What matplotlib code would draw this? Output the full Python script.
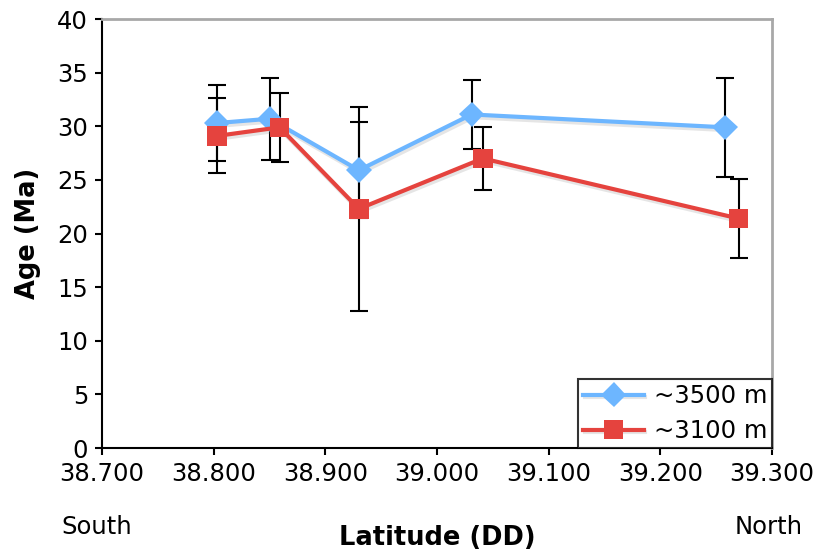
import matplotlib
matplotlib.use("Agg")
import matplotlib.pyplot as plt
import matplotlib.patheffects as pe

# Latitude (DD) of each sample site
lat_3500 = [38.803, 38.850, 38.930, 39.031, 39.258]
lat_3100 = [38.803, 38.859, 38.930, 39.041, 39.270]

# Ages (Ma) and their error bars
age_3500 = [30.3, 30.7, 25.9, 31.1, 29.9]
err_3500 = [3.5, 3.8, 4.5, 3.2, 4.6]
age_3100 = [29.1, 29.9, 22.3, 27.0, 21.4]
err_3100 = [3.5, 3.2, 9.5, 2.9, 3.7]

x_ticks = [38.7, 38.8, 38.9, 39.0, 39.1, 39.2, 39.3]
y_ticks = [0, 5, 10, 15, 20, 25, 30, 35, 40]

BLUE = "#6DB6FF"
RED = "#E5433E"
FS = 17.5
FS_BOLD = 18.5


def main():
    fig = plt.figure(figsize=(8.22, 5.54), dpi=100)
    ax = fig.add_axes([0.1241, 0.1913, 0.8151, 0.7744])

    shadow = [pe.SimpleLineShadow(offset=(1, -2), shadow_color="0.5", alpha=0.2), pe.Normal()]

    # error bars sit behind the lines and markers
    ax.errorbar(lat_3500, age_3500, yerr=err_3500, fmt="none", ecolor="black",
                elinewidth=1.5, capsize=6.5, capthick=1.5, zorder=2)
    ax.errorbar(lat_3100, age_3100, yerr=err_3100, fmt="none", ecolor="black",
                elinewidth=1.5, capsize=6.5, capthick=1.5, zorder=2)

    ax.plot(lat_3500, age_3500, color=BLUE, linewidth=3, marker="D", markersize=13,
            markeredgewidth=0, label="~3500 m", zorder=3, path_effects=shadow)
    ax.plot(lat_3100, age_3100, color=RED, linewidth=3, marker="s", markersize=14,
            markeredgewidth=0, label="~3100 m", zorder=4, path_effects=shadow)

    ax.set_xlim(38.7, 39.3)
    ax.set_ylim(0, 40)
    ax.set_xticks(x_ticks)
    ax.set_xticklabels([f"{v:.3f}" for v in x_ticks])
    ax.set_yticks(y_ticks)
    ax.tick_params(direction="out", length=5, width=1.5, labelsize=FS, pad=5)

    for side in ["left", "bottom"]:
        ax.spines[side].set_color("black")
        ax.spines[side].set_linewidth(1.5)
    for side in ["top", "right"]:
        ax.spines[side].set_color("#a8a8a8")
        ax.spines[side].set_linewidth(2)

    ax.set_ylabel("Age (Ma)", fontsize=FS_BOLD, fontweight="bold", labelpad=12)
    fig.text(0.5316, 0.029, "Latitude (DD)", fontsize=FS_BOLD, fontweight="bold",
             ha="center", va="center")
    fig.text(0.075, 0.049, "South", fontsize=FS, ha="left", va="center")
    fig.text(0.977, 0.049, "North", fontsize=FS, ha="right", va="center")

    leg = ax.legend(loc="lower right", fontsize=FS, frameon=True, fancybox=False,
                    borderaxespad=0, handlelength=2.5, handletextpad=0.4,
                    borderpad=0.2, labelspacing=0.45)
    leg.get_frame().set_edgecolor("black")
    leg.get_frame().set_linewidth(1.5)

    fig.savefig("out.png", dpi=100)
    plt.close(fig)


if __name__ == "__main__":
    main()
